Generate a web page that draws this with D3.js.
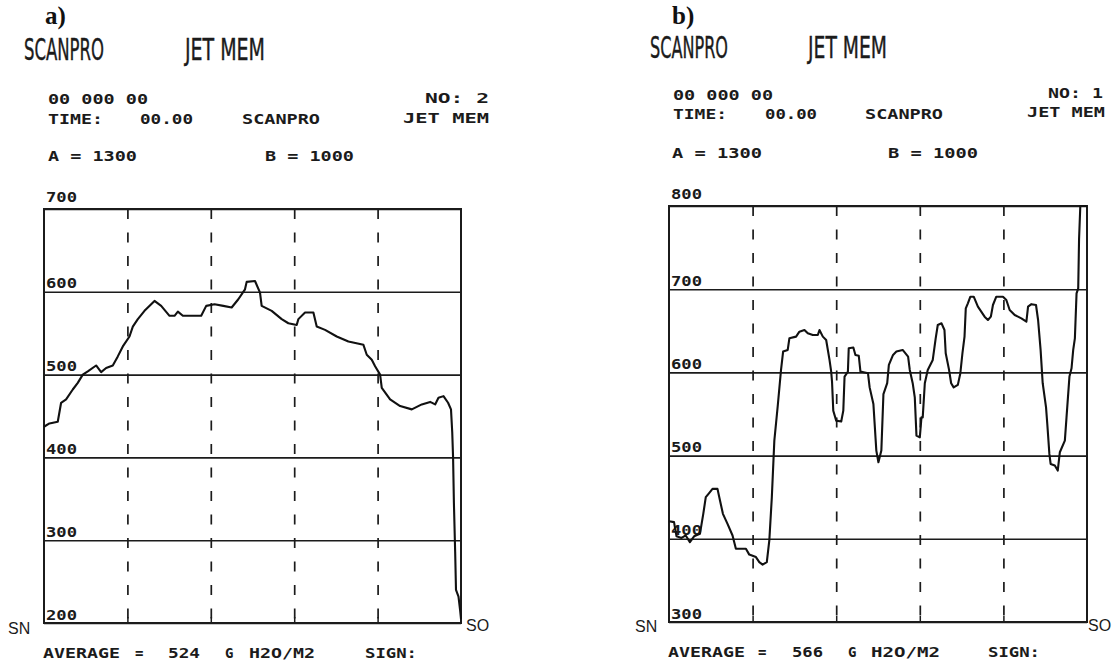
<!DOCTYPE html>
<html><head><meta charset="utf-8">
<script src="https://cdn.jsdelivr.net/npm/d3@7"></script>
<style>
html,body{margin:0;padding:0;background:#fff;}
svg{display:block;background:#fff;}
.mono{font-family:"DejaVu Sans Mono",monospace;font-weight:bold;font-size:14px;fill:#1b1b1b;}
.big{font-family:"Liberation Sans Narrow","DejaVu Sans Condensed",sans-serif;font-size:30px;fill:#1b1b1b;stroke:#1b1b1b;stroke-width:0.4px;}
.lab{font-family:"Liberation Serif",serif;font-weight:bold;font-size:25px;fill:#111;}
.end{font-family:"Liberation Sans",sans-serif;font-size:16px;fill:#1b1b1b;}
</style></head>
<body><svg id="chart" width="1112" height="663"></svg>
<script>
// ---------- DATA ----------
// scan position (0..100 % of web width, SN -> SO) and basis weight (g/m2)
const scanPosA = [0,1.3,3.3,4.1,5.3,6.9,8.1,9.3,10.5,12.5,13.7,14.9,16.5,17.7,18.9,20.5,21.3,22.5,24.1,26.5,28.1,30.1,31.3,32.1,33.3,37.7,38.9,40.9,43.0,45.0,46.6,48.2,48.6,50.6,51.8,52.2,54.6,57.0,58.6,60.6,61.0,62.6,64.6,65.4,67.4,70.2,73.0,76.6,77.4,78.6,79.4,80.6,81.0,83.0,85.4,88.2,90.6,92.6,93.8,94.6,95.8,96.9,97.6,97.9,98.1,98.3,98.6,98.8,99.4,99.8,100];
const scanValA = [437,441,443,466,470,482,490,500,504,511,503,508,511,522,534,546,558,567,577,589,583,571,571,576,571,571,583,585,583,581,591,603,612,613,599,583,577,567,562,560,567,575,575,558,554,546,540,536,524,518,510,500,484,470,462,458,464,467,464,472,474,466,458,430,400,345,286,240,232,215,205];

const scanPosB = [0,1.2,1.8,3,4,5,6,7.4,8.2,8.8,9.6,10.4,11.6,12.2,12.9,14.0,15.2,16.0,18.4,19.2,20.8,21.6,22.4,23.4,24.0,24.6,25.2,26.0,26.8,27.3,28.4,28.8,30.4,31.2,32.4,33.2,34.4,35.6,36.0,36.8,37.6,38.4,38.8,39.0,39.3,40.0,41.2,41.7,42.0,42.8,43.0,44.1,44.6,45.4,45.8,47.6,48.0,48.9,49.6,50.1,50.8,51.3,52.2,52.6,53.6,54.4,55.9,57.2,57.6,58.3,58.8,59.2,60.0,60.4,60.7,61.2,61.9,63.1,63.8,64.3,65.2,65.9,66.2,67.0,67.5,68.1,69.1,69.7,70.2,70.7,71.0,71.5,72.1,72.9,73.9,75.5,76.3,77.0,77.5,78.3,79.9,80.7,81.5,82.7,84.3,85.5,85.9,86.7,87.8,88.3,88.9,89.4,90.2,90.5,91.0,91.3,92.3,93.0,93.5,94.7,95.1,95.8,96.3,96.7,97.1,97.5,97.9,98.1,98.4,100];
const scanValB = [421,420,403,401,404,396,403,406,430,450,455,460,460,446,430,418,404,388,388,381,378,372,369,372,398,450,518,559,603,625,627,641,643,649,651,647,645,645,651,643,639,615,601,589,554,542,541,554,595,601,629,630,621,620,601,599,582,562,506,492,506,574,587,609,621,625,627,619,603,587,570,524,522,546,546,587,603,615,641,657,659,651,623,603,587,582,585,599,623,643,677,683,691,691,679,667,663,667,681,691,691,687,675,669,665,661,679,682,681,663,627,587,558,538,502,490,488,482,504,518,546,595,605,627,641,695,701,760,800,800];

const yTicksA = [700,600,500,400,300,200];
const yTicksB = [800,700,600,500,400,300];
const xDivisions = [20,40,60,80];
const panelLetters = ["a)","b)"];
const panelNumbers = [2,1];
const paramA = [1300,1300];
const paramB = [1000,1000];
const averages = [524,566];

// ---------- LAYOUT ----------
const svg = d3.select("#chart");
const ink = "#1b1b1b";

const panels = [
  {letter:panelLetters[0], no:panelNumbers[0], a:paramA[0], b:paramB[0], avg:averages[0],
   pos:scanPosA, val:scanValA, ticks:yTicksA,
   left:44, right:461, top:209, bottom:623,
   txt:{letter:[45,24], title1:[24,60,80], title2:[185,60,80],
        code:[48,104,100], time:[48,124,55], clock:[140,124,53], name:[242,124,78],
        no:[425,103,64], name2:[403,123,86], pa:[48,161,89], pb:[265,161,89],
        sn:[8,634], so:[466,631],
        avgl:[43,658,77], eq:[135,658], avgv:[168,658,32], g:[225,658], unit:[249,658,66], sign:[365,658,52]}},
  {letter:panelLetters[1], no:panelNumbers[1], a:paramA[1], b:paramB[1], avg:averages[1],
   pos:scanPosB, val:scanValB, ticks:yTicksB,
   left:669, right:1087, top:206, bottom:622,
   txt:{letter:[672,24], title1:[650,58,78], title2:[808,58,79],
        code:[673,100,100], time:[673,119,54], clock:[765,119,52], name:[865,119,78],
        no:[1048,98,55], name2:[1027,117,78], pa:[672,158,90], pb:[888,158,90],
        sn:[635,632], so:[1088,631],
        avgl:[668,657,77], eq:[758,657], avgv:[792,657,31], g:[848,657], unit:[871,657,69], sign:[988,657,52]}}
];

function txt(cls, s, p){
  const t = svg.append("text").attr("class", cls).attr("x", p[0]).attr("y", p[1]).text(s);
  if (p[2]) t.attr("textLength", p[2]).attr("lengthAdjust", "spacingAndGlyphs");
  return t;
}

panels.forEach(P => {
  const x = d3.scaleLinear().domain([0,100]).range([P.left, P.right]);
  const y = d3.scaleLinear().domain([d3.min(P.ticks), d3.max(P.ticks)]).range([P.bottom, P.top]);
  const W = P.right - P.left, H = P.bottom - P.top;

  // horizontal grid lines + value labels
  const gy = svg.append("g").attr("transform", `translate(${P.left},0)`)
    .call(d3.axisRight(y).tickValues(P.ticks).tickSize(W).tickFormat(d3.format("d")));
  gy.select(".domain").remove();
  gy.attr("font-family", null).attr("font-size", null);
  gy.selectAll(".tick line").attr("stroke", ink).attr("stroke-width", 1.6);
  gy.selectAll(".tick text").attr("class", "mono").attr("fill", ink)
    .attr("x", 2).attr("dy", d => d === d3.max(P.ticks) ? -8 : -4)
    .attr("textLength", 31).attr("lengthAdjust", "spacingAndGlyphs");

  // dashed vertical division lines
  const gx = svg.append("g").attr("transform", `translate(0,${P.bottom})`)
    .call(d3.axisBottom(x).tickValues(xDivisions).tickSize(0).tickFormat(""));
  gx.select(".domain").remove();
  gx.selectAll(".tick line").attr("y1", -H).attr("y2", 0)
    .attr("stroke", ink).attr("stroke-width", 1.7).attr("stroke-dasharray", "10,13.5");
  gx.selectAll(".tick").append("line").attr("y1", -6).attr("y2", 0).attr("stroke", ink).attr("stroke-width", 1.5);

  // frame
  svg.append("rect").attr("x", P.left).attr("y", P.top).attr("width", W).attr("height", H)
    .attr("fill", "none").attr("stroke", ink).attr("stroke-width", 2);

  // profile
  const line = d3.line().x(d => x(d[0])).y(d => y(d[1]));
  svg.append("path").datum(d3.zip(P.pos, P.val)).attr("d", line)
    .attr("fill", "none").attr("stroke", "#111").attr("stroke-width", 2.1).attr("stroke-linejoin", "round");

  // texts
  const T = P.txt;
  txt("lab", P.letter, T.letter);
  txt("big", "SCANPRO", T.title1);
  txt("big", "JET MEM", T.title2);
  txt("mono", "00 000 00", T.code);
  txt("mono", "TIME:", T.time);
  txt("mono", "00.00", T.clock);
  txt("mono", "SCANPRO", T.name);
  txt("mono", "NO: " + P.no, T.no);
  txt("mono", "JET MEM", T.name2);
  txt("mono", "A = " + P.a, T.pa);
  txt("mono", "B = " + P.b, T.pb);
  txt("end", "SN", T.sn);
  txt("end", "SO", T.so);
  txt("mono", "AVERAGE", T.avgl);
  txt("mono", "=", T.eq);
  txt("mono", String(P.avg), T.avgv);
  txt("mono", "G", T.g);
  txt("mono", "H2O/M2", T.unit);
  txt("mono", "SIGN:", T.sign);
});
</script>
</body></html>
